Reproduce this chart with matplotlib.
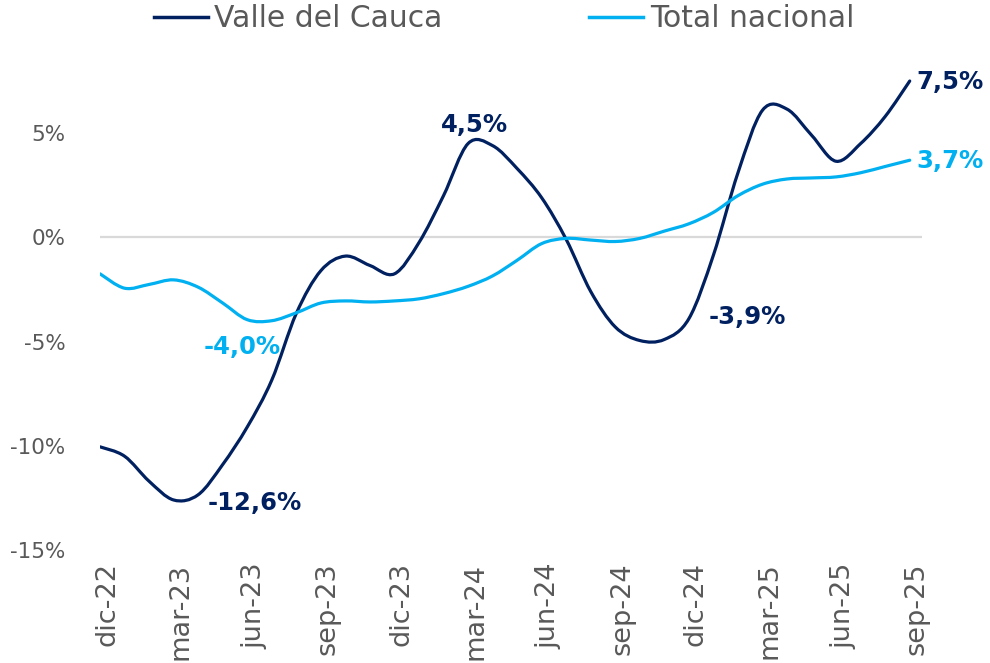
import numpy as np
import matplotlib
matplotlib.use("Agg")
import matplotlib.pyplot as plt
from matplotlib.path import Path
from matplotlib.patches import PathPatch
from matplotlib.lines import Line2D
import matplotlib.transforms as mtransforms

# ---------------- data ----------------
months = ["dic-22", "ene-23", "feb-23", "mar-23", "abr-23", "may-23", "jun-23", "jul-23",
          "ago-23", "sep-23", "oct-23", "nov-23", "dic-23", "ene-24", "feb-24", "mar-24",
          "abr-24", "may-24", "jun-24", "jul-24", "ago-24", "sep-24", "oct-24", "nov-24",
          "dic-24", "ene-25", "feb-25", "mar-25", "abr-25", "may-25", "jun-25", "jul-25",
          "ago-25", "sep-25"]

valle = [-10.05, -10.5, -11.7, -12.6, -12.35, -10.9, -9.1, -6.85, -3.65, -1.6, -0.9, -1.35,
         -1.75, -0.25, 2.0, 4.5, 4.4, 3.3, 1.9, -0.1, -2.6, -4.3, -4.95, -4.9,
         -3.9, -0.85, 3.1, 6.1, 6.15, 4.9, 3.65, 4.5, 5.8, 7.5]

nacional = [-1.75, -2.44, -2.26, -2.04, -2.39, -3.15, -3.95, -4.0, -3.62, -3.15, -3.05, -3.1,
            -3.05, -2.95, -2.7, -2.35, -1.85, -1.1, -0.3, -0.05, -0.13, -0.2, -0.05, 0.3,
            0.65, 1.2, 2.0, 2.55, 2.8, 2.85, 2.9, 3.1, 3.4, 3.7]

tick_labels = ["dic-22", "mar-23", "jun-23", "sep-23", "dic-23", "mar-24",
               "jun-24", "sep-24", "dic-24", "mar-25", "jun-25", "sep-25"]
y_ticks = [-15, -10, -5, 0, 5]
y_tick_labels = ["-15%", "-10%", "-5%", "0%", "5%"]

series_names = ["Valle del Cauca", "Total nacional"]
colors = ["#002060", "#00B0F0"]

# labels: (series index, month index, text, offset in pixels)
data_labels = [
    (0, 3, "-12,6%", (81, -3)),
    (1, 7, "-4,0%", (-30, -26)),
    (0, 15, "4,5%", (6, 19)),
    (0, 24, "-3,9%", (58, 2)),
    (0, 33, "7,5%", (40, -1)),
    (1, 33, "3,7%", (40, -1)),
]

# ---------------- helpers ----------------
def smooth_path(xs, ys):
    P = np.column_stack([xs, ys]).astype(float)
    n = len(P)
    verts = [tuple(P[0])]
    codes = [Path.MOVETO]
    for i in range(n - 1):
        p0 = P[i - 1] if i > 0 else P[i]
        p1 = P[i]
        p2 = P[i + 1]
        p3 = P[i + 2] if i + 2 < n else P[i + 1]
        c1 = p1 + (p2 - p0) / 6.0
        c2 = p2 - (p3 - p1) / 6.0
        verts += [tuple(c1), tuple(c2), tuple(p2)]
        codes += [Path.CURVE4] * 3
    return Path(verts, codes)

# ---------------- figure ----------------
plt.rcParams['font.family'] = ['DejaVu Sans']
fig = plt.figure(figsize=(9.9, 6.63), dpi=100)
ax = fig.add_axes([100 / 990, 113 / 663, 822 / 990, 479.4 / 663])

x = np.arange(len(months))
for vals, col in zip([valle, nacional], colors):
    patch = PathPatch(smooth_path(x, vals), fill=False, edgecolor=col, lw=2.3,
                      capstyle='round', joinstyle='round', zorder=3)
    ax.add_patch(patch)

ax.axhline(0, color="#D9D9D9", lw=1.6, zorder=1)

ax.set_xlim(0, 33.5)
ax.set_ylim(-15, 8)

for s in ax.spines.values():
    s.set_visible(False)

ax.set_yticks(y_ticks)
ax.set_yticklabels(y_tick_labels)
ax.set_xticks(x[::3])
ax.set_xticklabels(tick_labels, rotation=90, ha="center", va="top")
ax.tick_params(axis="both", length=0, colors="#595959")
ax.tick_params(axis="y", labelsize=15.5, pad=25)
ax.tick_params(axis="x", labelsize=19.5, pad=9)

offset = mtransforms.ScaledTranslation(7 / 100, 0, fig.dpi_scale_trans)
for lab in ax.get_xticklabels():
    lab.set_transform(lab.get_transform() + offset)

series = [valle, nacional]
for si, mi, txt, off in data_labels:
    ax.annotate(txt, xy=(x[mi], series[si][mi]), xytext=off, textcoords="offset pixels",
                ha="center", va="center", fontsize=17.5, fontweight="bold",
                color=colors[si], annotation_clip=False)

handles = [Line2D([], [], color=c, lw=2.5) for c in colors]
fig.legend(handles, series_names, loc="center", bbox_to_anchor=(0.509, 0.972),
           ncol=2, frameon=False, fontsize=21.5, handlelength=1.8, handletextpad=0.23,
           columnspacing=4.9, labelcolor="#595959")

fig.savefig("out.png", dpi=100)
